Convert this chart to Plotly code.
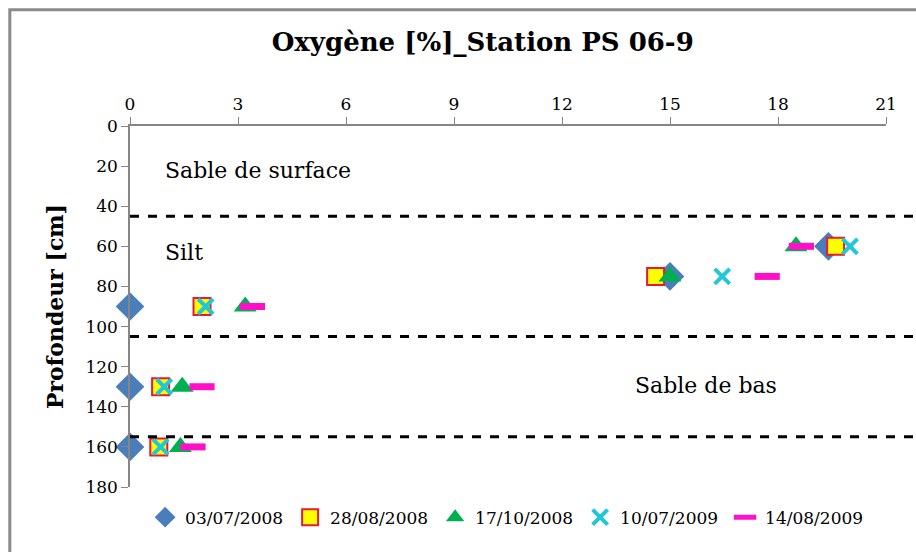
import plotly.graph_objects as go

SERIF = "DejaVu Serif"

# Oxygen readings (%) by depth (cm) for each sampling date
depth_deep = [90, 130, 160]
depth_top = [75, 60]

dates = ["03/07/2008", "28/08/2008", "17/10/2008", "10/07/2009", "14/08/2009"]
oxy_0307_2008 = [0.0, 0.0, 0.0, 15.0, 19.4]
oxy_2808_2008 = [2.0, 0.85, 0.8, 14.6, 19.6]
oxy_1710_2008 = [3.2, 1.45, 1.4, 15.0, 18.5]
oxy_1007_2009 = [2.1, 0.95, 0.85, 16.45, 20.0]
oxy_1408_2009 = [3.4, 2.0, 1.75, 17.7, 18.65]

depths = depth_deep + depth_top

layer_bounds = [45, 105, 155]
layer_names = ["Sable de surface", "Silt", "Sable de bas"]
layer_label_pos = [(3.55, 22), (1.5, 63), (16.0, 129.5)]

series = [
    (oxy_0307_2008, dict(symbol="diamond", size=22, color="#4a7ebb",
                         line=dict(width=0))),
    (oxy_2808_2008, dict(symbol="square", size=17, color="#ffff00",
                         line=dict(width=2, color="#e8173c"))),
    (oxy_1710_2008, dict(symbol="triangle-up", size=20, color="#00b050",
                         line=dict(width=0))),
    (oxy_1007_2009, dict(symbol="x-thin-open", size=15, color="#22c7d6",
                         line=dict(width=4, color="#22c7d6"))),
    (oxy_1408_2009, dict(symbol="line-ew-open", size=18, color="#ff10c8",
                         line=dict(width=7, color="#ff10c8"))),
]

fig = go.Figure()
for name, (vals, marker) in zip(dates, series):
    fig.add_trace(go.Scatter(x=vals, y=depths, mode="markers", name=name,
                             marker=marker, cliponaxis=False))

# layer boundaries
for b in layer_bounds:
    fig.add_shape(type="line", xref="paper", yref="y", x0=0, x1=1.04,
                  y0=b, y1=b, line=dict(color="black", width=3, dash="dash"))

for name, (lx, ly) in zip(layer_names, layer_label_pos):
    fig.add_annotation(x=lx, y=ly, text=name, showarrow=False,
                       font=dict(family=SERIF, size=22, color="black"))

# chart frame
fig.add_shape(type="rect", xref="paper", yref="paper",
              x0=-0.159, x1=1.2, y0=-0.5, y1=1.322,
              line=dict(color="#8a8a8a", width=3))

fig.update_layout(
    width=916, height=552,
    margin=dict(l=130, r=30, t=126, b=65),
    paper_bgcolor="white", plot_bgcolor="white",
    font=dict(family=SERIF, size=17, color="black"),
    title=dict(text="<b>Oxygène [%]_Station PS 06-9</b>", x=0.527, xanchor="center",
               y=0.925, yanchor="middle",
               font=dict(family=SERIF, size=26, color="black")),
    showlegend=True,
    legend=dict(orientation="h", x=0.02, xanchor="left", y=-0.035, yanchor="top",
                font=dict(family=SERIF, size=17, color="black"),
                entrywidth=100, entrywidthmode="pixels",
                itemwidth=30, tracegroupgap=0, bgcolor="rgba(0,0,0,0)"),
)

fig.update_xaxes(range=[0, 21], dtick=3, tick0=0, side="top", showgrid=False,
                 zeroline=False, showline=True, linecolor="#868686", linewidth=1.5,
                 ticks="outside", ticklen=7, tickcolor="#868686",
                 tickfont=dict(family=SERIF, size=17))
fig.update_yaxes(range=[180, 0], dtick=20, tick0=0, showgrid=False,
                 zeroline=False, showline=True, linecolor="#868686", linewidth=1.5,
                 ticks="outside", ticklen=7, tickcolor="#868686",
                 tickfont=dict(family=SERIF, size=17),
                 title=dict(text="<b>Profondeur [cm]</b>", standoff=16,
                            font=dict(family=SERIF, size=22)))

fig.write_html("out.html")
